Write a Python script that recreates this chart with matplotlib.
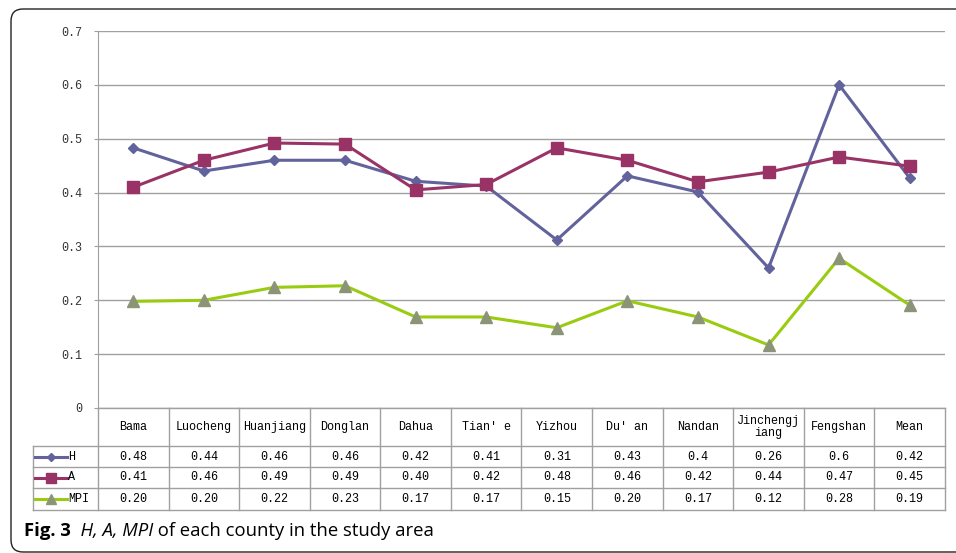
import matplotlib

matplotlib.use("Agg")
import matplotlib.pyplot as plt  # noqa: E402
from matplotlib.patches import FancyBboxPatch  # noqa: E402

# data (plotted values, table strings as printed)
counties = ["Bama", "Luocheng", "Huanjiang", "Donglan", "Dahua", "Tian' e",
            "Yizhou", "Du' an", "Nandan", "Jinchengj\niang", "Fengshan", "Mean"]
h_vals = [0.483, 0.440, 0.460, 0.460, 0.421, 0.412, 0.312, 0.431, 0.401, 0.260, 0.600, 0.427]
a_vals = [0.410, 0.460, 0.492, 0.490, 0.405, 0.415, 0.483, 0.460, 0.420, 0.438, 0.466, 0.449]
mpi_vals = [0.198, 0.200, 0.224, 0.227, 0.169, 0.169, 0.149, 0.199, 0.169, 0.117, 0.278, 0.191]
h_txt = ["0.48", "0.44", "0.46", "0.46", "0.42", "0.41", "0.31", "0.43", "0.4", "0.26", "0.6", "0.42"]
a_txt = ["0.41", "0.46", "0.49", "0.49", "0.40", "0.42", "0.48", "0.46", "0.42", "0.44", "0.47", "0.45"]
mpi_txt = ["0.20", "0.20", "0.22", "0.23", "0.17", "0.17", "0.15", "0.20", "0.17", "0.12", "0.28", "0.19"]
yticks = [0, 0.1, 0.2, 0.3, 0.4, 0.5, 0.6, 0.7]

W, H = 956, 553
series = [
    ("H", h_vals, h_txt, dict(color="#62629c", marker="D", ms=5, mfc="#62629c", mec="#62629c")),
    ("A", a_vals, a_txt, dict(color="#993366", marker="s", ms=8, mfc="#993366", mec="#993366")),
    ("MPI", mpi_vals, mpi_txt, dict(color="#99cc11", marker="^", ms=8, mfc="#8c9478", mec="#8c9478")),
]
MONO = "Liberation Mono"
FS = 8.5
GRID = "#a0a0a0"

fig = plt.figure(figsize=(W / 100, H / 100), dpi=100)

# overlay in pixel coords for frame, table and caption
ov = fig.add_axes([0, 0, 1, 1])
ov.set_xlim(0, W)
ov.set_ylim(H, 0)
ov.axis("off")
ov.add_patch(FancyBboxPatch((11, 9), W + 20, 543, boxstyle="round,pad=0,rounding_size=12",
                            fc="none", ec="#222222", lw=1.0))

# plot area
x0, x1, ytop, ybot = 98, 945, 31, 408
ax = fig.add_axes([x0 / W, 1 - ybot / H, (x1 - x0) / W, (ybot - ytop) / H])
ax.set_zorder(2)
ax.patch.set_alpha(0)
n = len(counties)
xs = list(range(n))
for name, vals, _, st in series:
    ax.plot(xs, vals, lw=2.2, zorder=3, **st)
ax.set_xlim(-0.5, n - 0.5)
ax.set_ylim(0, 0.7)
ax.set_yticks(yticks)
ax.set_yticklabels(["0" if t == 0 else f"{t:.1f}" for t in yticks],
                   fontfamily=MONO, fontsize=FS, color="#333333")
ax.tick_params(axis="y", length=3, color=GRID, pad=8)
ax.set_xticks([])
ax.grid(axis="y", color=GRID, lw=1.0)
for s in ["top", "right", "bottom"]:
    ax.spines[s].set_visible(False)
ax.spines["left"].set_color(GRID)

# data table
colw = (x1 - x0) / n
rows_y = [408, 446, 467, 488, 510]
lx = 33
lc = GRID
ov.plot([x0, x1], [rows_y[0], rows_y[0]], color=lc, lw=1)
for y in rows_y[1:]:
    ov.plot([lx, x1], [y, y], color=lc, lw=1)
ov.plot([lx, lx], [rows_y[1], rows_y[-1]], color=lc, lw=1)
for i in range(n + 1):
    xc = x0 + i * colw
    ov.plot([xc, xc], [rows_y[0], rows_y[-1]], color=lc, lw=1)
for i, c in enumerate(counties):
    ov.text(x0 + (i + 0.5) * colw, (rows_y[0] + rows_y[1]) / 2, c, ha="center", va="center",
            fontfamily=MONO, fontsize=FS, linespacing=1.1)
for r, (name, vals, txt, st) in enumerate(series):
    yc = (rows_y[r + 1] + rows_y[r + 2]) / 2
    ov.plot([35, 67], [yc, yc], color=st["color"], lw=2.2)
    ov.plot([51], [yc], marker=st["marker"], ms=st["ms"] - 1, mfc=st["mfc"], mec=st["mec"],
            ls="none")
    ov.text(68, yc, name, ha="left", va="center", fontfamily=MONO, fontsize=FS)
    for i, t in enumerate(txt):
        ov.text(x0 + (i + 0.5) * colw, yc, t, ha="center", va="center",
                fontfamily=MONO, fontsize=FS)

# caption
t1 = ov.text(24, 531, "Fig. 3", fontfamily="Open Sans", fontweight="bold", fontsize=13.3,
             va="center", ha="left")
t2 = ov.annotate("  H, A, MPI", xy=(1, 0), xycoords=t1, va="bottom", ha="left",
                 fontfamily="Open Sans", style="italic", fontsize=13.3)
ov.annotate(" of each county in the study area", xy=(1, 0), xycoords=t2, va="bottom",
            ha="left", fontfamily="Open Sans", fontsize=13.3)

fig.savefig("out.png", dpi=100)
plt.close(fig)
